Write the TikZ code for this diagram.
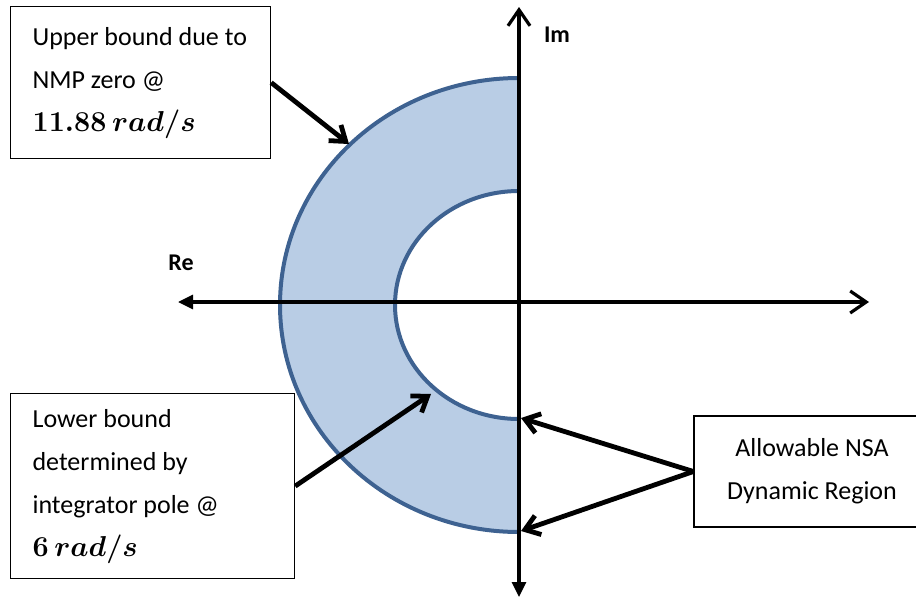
\documentclass[tikz,border=0pt]{standalone}
\usepackage{amsmath}
\usepackage{fontspec}
\setmainfont{Carlito}
\usetikzlibrary{arrows.meta}
\definecolor{bandfill}{RGB}{185,205,229}
\definecolor{bandline}{RGB}{62,98,145}
\newcommand{\bigmath}[1]{{\fontsize{14.4}{21.5}\selectfont$\boldsymbol{#1}$}}

\begin{document}
\begin{tikzpicture}[x=0.5pt, y=-0.5pt,
    callout/.style={draw, line width=0.6pt, font=\fontsize{13}{21.5}\selectfont, inner xsep=11pt, inner ysep=0pt},
    pointer/.style={line width=2.4pt, -{Straight Barb[length=7pt,width=10pt]}},
    axis/.style={line width=1.6pt, {Triangle[length=7.5pt,width=7pt]}-{Straight Barb[length=8pt,width=11pt]}},
    axislabel/.style={font=\bfseries\fontsize{12}{14}\selectfont},
  ]
  \useasboundingbox (0,0) rectangle (916,600);

  % shaded band, left half of the plane only
  \begin{scope}
    \clip (0,0) rectangle (519,600);
    \fill[bandfill, even odd rule] (519,305) ellipse [x radius=239, y radius=227]
                                    (519,305) ellipse [x radius=124, y radius=114];
    \draw[bandline, line width=2pt] (519,305) ellipse [x radius=239, y radius=227];
    \draw[bandline, line width=2pt] (519,305) ellipse [x radius=124, y radius=114];
  \end{scope}

  % axes
  \coordinate (reL) at (178,302);
  \coordinate (reR) at (869,302);
  \coordinate (imB) at (519,597);
  \coordinate (imT) at (519,7);
  \draw[axis] (reL) -- (reR);
  \draw[axis] (imB) -- (imT);
  \node[axislabel] (re) at (181,263) {Re};
  \node[axislabel] (im) at (557,35) {Im};

  % points hit by the pointers
  \coordinate (outerhit) at (349,144);
  \coordinate (innerhit) at (431,394);
  \coordinate (innerbot) at (521,418);
  \coordinate (outerbot) at (521,531);

  \node[callout, align=flush left, text width=108pt, minimum height=76pt, anchor=north west] (upper) at (10,6)
    {\mbox{Upper bound due to}\\NMP zero @\\\bigmath{11.88\,rad/s}};
  \node[callout, align=flush left, text width=120pt, minimum height=92.5pt, anchor=north west] (lower) at (10,393)
    {Lower bound\\determined by\\integrator pole @\\\bigmath{6\,rad/s}};
  \node[callout, align=center, minimum width=118pt, minimum height=55.5pt] (nsa) at (812,471.5)
    {Allowable NSA\\Dynamic Region};

  \draw[pointer] (upper.east) -- (outerhit);
  \draw[pointer] (lower.east) -- (innerhit);
  \draw[pointer] (nsa.west) -- (innerbot);
  \draw[pointer] (nsa.west) -- (outerbot);
\end{tikzpicture}
\end{document}
